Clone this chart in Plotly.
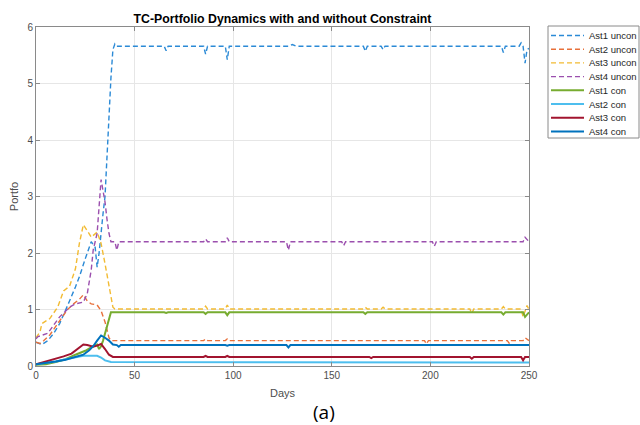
import plotly.graph_objects as go

# ---- data ----
a1u_d = [0, 3, 6, 9, 12, 14, 17, 20, 22, 25, 28, 30, 31, 32, 33, 34, 35, 36, 37, 38, 39, 40, 41,
         65, 66, 67, 85, 86, 87, 96, 97, 98, 128, 130, 132, 166, 167, 168, 175, 176, 177,
         236, 237, 238, 245, 246, 247, 248, 249, 250]
a1u_v = [0.42, 0.38, 0.45, 0.58, 0.75, 0.9, 1.15, 1.4, 1.58, 1.9, 2.2, 2.1, 1.75, 2.0, 2.4, 2.7, 3.0, 3.7, 4.5, 5.1, 5.6, 5.7, 5.66,
         5.66, 5.58, 5.66, 5.66, 5.52, 5.66, 5.66, 5.42, 5.66, 5.66, 5.69, 5.66, 5.66, 5.57, 5.66, 5.66, 5.6, 5.66,
         5.66, 5.55, 5.66, 5.66, 5.72, 5.66, 5.36, 5.6, 5.62]

a2u_d = [0, 2, 4, 7, 10, 13, 16, 19, 22, 24, 26, 28, 31, 33, 35, 37, 38,
         85, 86, 87, 96, 97, 98, 197, 198, 199, 239, 240, 241, 247, 248, 250]
a2u_v = [0.42, 0.4, 0.45, 0.55, 0.7, 0.85, 1.0, 1.1, 1.18, 1.26, 1.15, 1.1, 1.08, 0.98, 0.78, 0.5, 0.45,
         0.45, 0.48, 0.45, 0.45, 0.48, 0.45, 0.45, 0.39, 0.45, 0.45, 0.4, 0.45, 0.45, 0.5, 0.45]

a3u_d = [0, 2, 3, 7, 11, 14, 17, 20, 22, 24, 27, 28, 31, 33, 35, 37, 39, 40,
         85, 86, 87, 96, 97, 98, 166, 167, 168, 175, 176, 177, 220, 221, 222,
         236, 237, 238, 246, 247, 249, 250]
a3u_v = [0.5, 0.6, 0.75, 0.84, 1.04, 1.33, 1.41, 1.72, 2.17, 2.5, 2.34, 2.28, 2.37, 2.17, 1.81, 1.4, 1.04, 1.01,
         1.01, 1.06, 1.01, 1.01, 1.08, 1.01, 1.01, 1.04, 1.01, 1.01, 1.04, 1.01, 1.01, 0.93, 1.01,
         1.01, 1.05, 1.01, 1.01, 0.87, 1.07, 1.0]

a4u_d = [0, 1, 6, 9, 12, 17, 20, 24, 26, 28, 29, 31, 32, 33, 34, 35, 36, 37, 38, 40, 41, 42,
         85, 86, 87, 96, 97, 98, 127, 128, 129, 155, 156, 157, 201, 202, 203, 247, 248, 250]
a4u_v = [0.48, 0.52, 0.58, 0.72, 0.87, 1.04, 1.1, 1.13, 1.28, 1.7, 2.05, 2.35, 2.9, 3.3, 3.1, 2.9, 2.6, 2.35, 2.2, 2.2, 2.05, 2.2,
         2.2, 2.25, 2.2, 2.2, 2.27, 2.2, 2.2, 2.05, 2.2, 2.2, 2.13, 2.2, 2.2, 2.12, 2.2, 2.2, 2.28, 2.2]

a1c_d = [0, 5, 10, 15, 20, 25, 29, 31, 32, 33, 34, 35, 36, 37, 38,
         65, 66, 67, 85, 86, 87, 96, 97, 98, 166, 167, 168, 236, 237, 238, 247, 248, 250]
a1c_v = [0.02, 0.03, 0.07, 0.12, 0.2, 0.27, 0.35, 0.38, 0.3, 0.35, 0.45, 0.58, 0.72, 0.85, 0.95,
         0.95, 0.94, 0.95, 0.95, 0.92, 0.95, 0.95, 0.9, 0.95, 0.95, 0.92, 0.95, 0.95, 0.91, 0.95, 0.95, 0.87, 0.95]

a2c_d = [0, 5, 10, 15, 20, 24, 31, 33, 35, 38, 250]
a2c_v = [0.03, 0.05, 0.08, 0.12, 0.16, 0.18, 0.18, 0.15, 0.1, 0.07, 0.06]

a3c_d = [0, 3, 6, 10, 14, 18, 21, 24, 26, 29, 31, 33, 35, 37, 39,
         85, 86, 87, 96, 97, 98, 169, 170, 171, 220, 221, 222, 246, 247, 248, 250]
a3c_v = [0.03, 0.06, 0.08, 0.12, 0.17, 0.22, 0.3, 0.38, 0.37, 0.34, 0.36, 0.39, 0.3, 0.2, 0.16,
         0.16, 0.18, 0.16, 0.16, 0.18, 0.16, 0.16, 0.14, 0.16, 0.16, 0.13, 0.16, 0.16, 0.1, 0.16, 0.16]

a4c_d = [0, 5, 10, 15, 20, 24, 27, 29, 31, 33, 35, 37, 39, 41, 42, 43,
         96, 97, 98, 127, 128, 129, 250]
a4c_v = [0.03, 0.05, 0.08, 0.11, 0.16, 0.2, 0.28, 0.35, 0.45, 0.54, 0.5, 0.45, 0.38, 0.37, 0.34, 0.37,
         0.37, 0.36, 0.37, 0.37, 0.33, 0.37, 0.37]

series_names = ["Ast1 uncon", "Ast2 uncon", "Ast3 uncon", "Ast4 uncon",
                "Ast1 con", "Ast2 con", "Ast3 con", "Ast4 con"]
series_days = [a1u_d, a2u_d, a3u_d, a4u_d, a1c_d, a2c_d, a3c_d, a4c_d]
series_vals = [a1u_v, a2u_v, a3u_v, a4u_v, a1c_v, a2c_v, a3c_v, a4c_v]
series_colors = ["#2b8ad6", "#e8703a", "#f2bb33", "#9b4fae",
                 "#77ac30", "#4dbeee", "#a2142f", "#0072bd"]
series_dashed = [True, True, True, True, False, False, False, False]

x_ticks = [0, 50, 100, 150, 200, 250]
y_ticks = [0, 1, 2, 3, 4, 5, 6]

W, H = 640, 425
ML, MR, MT, MB = 36, 111, 27, 59
DASH = "5px,3px"
FONT = "Liberation Sans, Arial, Helvetica"

fig = go.Figure()
for name, d, v, col, dashed in zip(series_names, series_days, series_vals, series_colors, series_dashed):
    fig.add_trace(go.Scatter(
        x=d, y=v, mode="lines", name=name, showlegend=False,
        line=dict(color=col, width=1.4 if dashed else 2.0, dash=DASH if dashed else "solid"),
    ))

axis_common = dict(
    showline=True, linecolor="#8a8a8a", linewidth=1, mirror="ticks",
    showgrid=True, gridcolor="#e6e6e6", gridwidth=1,
    ticks="inside", ticklen=4, tickcolor="#8a8a8a",
    tickfont=dict(family=FONT, size=10, color="#4d4d4d"),
    zeroline=False, automargin=False,
)

fig.update_layout(
    width=W, height=H,
    margin=dict(l=ML, r=MR, t=MT, b=MB, autoexpand=False),
    paper_bgcolor="white", plot_bgcolor="white",
    title=dict(text="<b>TC-Portfolio Dynamics with and without Constraint</b>",
               x=0.5, xref="paper", y=1, yref="paper", yanchor="bottom", pad=dict(b=4),
               font=dict(family=FONT, size=12.3, color="#000000")),
    xaxis=dict(range=[0, 250], tickvals=x_ticks,
               title=dict(text="Days", standoff=9,
                          font=dict(family=FONT, size=11, color="#4d4d4d")),
               **axis_common),
    yaxis=dict(range=[0, 6], tickvals=y_ticks,
               title=dict(text="Portfo", standoff=6,
                          font=dict(family=FONT, size=11, color="#4d4d4d")),
               **axis_common),
    showlegend=False,
)

# ---- legend box drawn in pixel-derived paper fractions ----
pw = W - ML - MR
ph = H - MT - MB
def px_x(p):
    return (p - ML) / pw
def px_y(p):
    return 1 - (p - MT) / ph

box_l, box_r, box_t, box_b = 548, 639, 26, 138
fig.add_shape(type="rect", xref="paper", yref="paper",
              x0=px_x(box_l), x1=px_x(box_r), y0=px_y(box_b), y1=px_y(box_t),
              line=dict(color="#8a8a8a", width=1), fillcolor="white", layer="above")
row0, row_step = 35.5, 13.7
for i, (name, col, dashed) in enumerate(zip(series_names, series_colors, series_dashed)):
    ry = row0 + i * row_step
    fig.add_shape(type="line", xref="paper", yref="paper",
                  x0=px_x(551), x1=px_x(584), y0=px_y(ry), y1=px_y(ry),
                  line=dict(color=col, width=1.4 if dashed else 2.0, dash=DASH if dashed else "solid"),
                  layer="above")
    fig.add_annotation(text=name, xref="paper", yref="paper", x=px_x(587), y=px_y(ry),
                       xanchor="left", yanchor="middle", showarrow=False,
                       font=dict(family=FONT, size=9.5, color="#262626"))

fig.add_annotation(text="(a)", x=px_x(324), xref="paper", y=px_y(412), yref="paper",
                   xanchor="center", yanchor="middle", showarrow=False,
                   font=dict(family="Open Sans, Noto Sans", size=19, color="#000000"))

fig.write_html("out.html", config={"displayModeBar": False},
               post_script="document.body.style.margin='0';")
